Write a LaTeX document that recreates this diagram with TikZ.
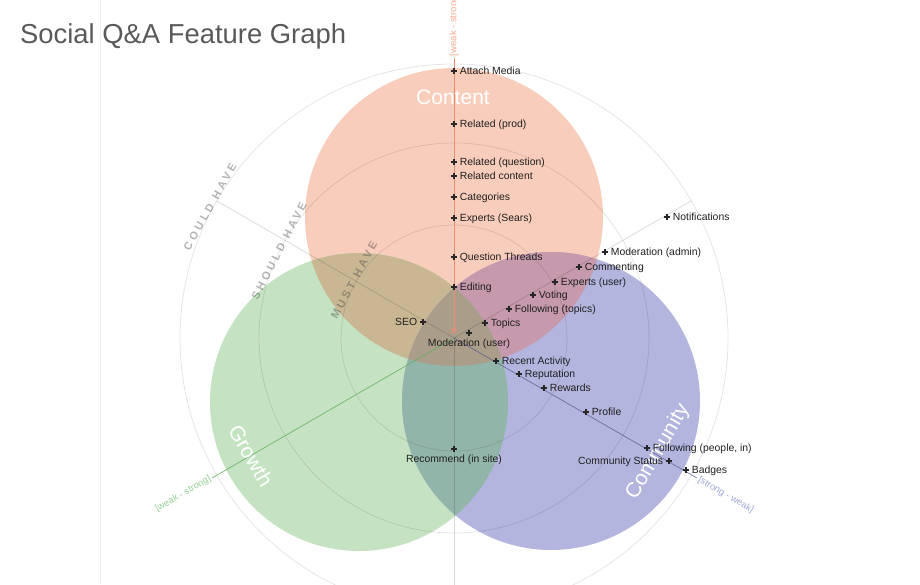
\documentclass[tikz,border=0pt]{standalone}
\usepackage{fontspec}
\setmainfont{Liberation Sans}
\newfontfamily\capsfont{Liberation Sans Bold}[LetterSpace=28]
\usetikzlibrary{arrows.meta}
\definecolor{cContent}{RGB}{249,205,187}
\definecolor{cGrowth}{RGB}{197,227,194}
\definecolor{cComm}{RGB}{179,181,222}
\definecolor{cCG}{RGB}{201,183,148}
\definecolor{cCC}{RGB}{198,153,172}
\definecolor{cGC}{RGB}{146,181,170}
\definecolor{cAll}{RGB}{170,157,138}
\definecolor{axC}{RGB}{240,140,110}
\definecolor{axCl}{RGB}{244,170,140}
\definecolor{axG}{RGB}{100,175,100}
\definecolor{axGl}{RGB}{150,210,150}
\definecolor{axM}{RGB}{85,90,140}
\definecolor{axMl}{RGB}{160,168,210}
\begin{document}
\begin{tikzpicture}[x=1pt,y=-1pt,
  plus/.style={inner sep=0pt, minimum size=6.5pt,
    path picture={\draw[line width=1.1pt,black!85]
      (path picture bounding box.north)--(path picture bounding box.south)
      (path picture bounding box.west)--(path picture bounding box.east);}},
  lbl/.style={font=\fontsize{10.4}{12}\selectfont, text=black!88, inner sep=2.2pt,
    text height=7.5pt, text depth=0pt},
  every label/.style={lbl},
  label distance=0pt,
  bigw/.style={font=\fontsize{21}{24}\selectfont, text=white, inner sep=0pt},
  caps/.style={font=\capsfont\fontsize{11}{12}\selectfont, text=black!75,
    text opacity=0.4, inner sep=0pt},
  axl/.style={font=\fontsize{9.5}{11}\selectfont, inner sep=0.8pt},
  ring/.style={draw=black, draw opacity=0.1, line width=0.8pt},
  gaxis/.style={draw=black, draw opacity=0.14, line width=0.8pt}
]
\useasboundingbox (0,0) rectangle (920,584);
\clip (0,0) rectangle (920,584);

% centres
\coordinate (O) at (454,338);
\coordinate (Cc) at (454,217);
\coordinate (Cg) at (359,402);
\coordinate (Cm) at (551,401);

% left guide line
\coordinate (gl1) at (100,0);
\coordinate (gl2) at (100,584);
\draw[black!7, line width=0.8pt] (gl1) -- (gl2);

% circles
\fill[cContent] (Cc) circle[radius=149pt];
\fill[cGrowth] (Cg) circle[radius=149pt];
\fill[cComm] (Cm) circle[radius=149pt];
\begin{scope}
  \clip (Cc) circle[radius=149pt];
  \fill[cCG] (Cg) circle[radius=149pt];
  \fill[cCC] (Cm) circle[radius=149pt];
\end{scope}
\begin{scope}
  \clip (Cg) circle[radius=149pt];
  \fill[cGC] (Cm) circle[radius=149pt];
\end{scope}
\begin{scope}
  \clip (Cc) circle[radius=149pt];
  \clip (Cg) circle[radius=149pt];
  \fill[cAll] (Cm) circle[radius=149pt];
\end{scope}

% rings
\draw[ring] (O) circle[radius=113pt];
\draw[ring] (O) circle[radius=195pt];
\draw[ring] (O) circle[radius=274pt];

% axes
\coordinate (cTop) at (454,58);
\coordinate (cTip) at (454,334);
\coordinate (gEnd) at (212,478);
\coordinate (mEnd) at (697,478);
\coordinate (nwEnd) at (217,201);
\coordinate (neEnd) at (691,201);
\coordinate (bEnd) at (454,590);
\draw[gaxis] (O) -- (nwEnd);
\draw[gaxis] (O) -- (neEnd);
\draw[gaxis] (O) -- (bEnd);
\draw[axC, line width=0.8pt, -{Triangle[open,length=5pt,width=6pt]}] (cTop) -- (cTip);
\draw[axG, draw opacity=0.8, line width=0.8pt] (O) -- (gEnd);
\draw[axM, draw opacity=0.7, line width=0.8pt] (O) -- (mEnd);

\node[axl, text=axCl, rotate=90, anchor=west] (lc) at (454,57) {[weak - strong]};
\node[axl, text=axGl, rotate=30, anchor=east] (lg) at (211,478) {[weak - strong]};
\node[axl, text=axMl, rotate=-30, anchor=west] (lm) at (698,479) {[strong - weak]};

% ring labels
\node[caps, rotate=61] (could) at (210,207) {COULD\hspace{7pt}HAVE};
\node[caps, rotate=63] (should) at (279,251) {SHOULD\hspace{7pt}HAVE};
\node[caps, rotate=62] (must) at (354,280) {MUST\hspace{7pt}HAVE};

% circle labels
\node[bigw] (tcontent) at (453,97) {Content};
\node[bigw, rotate=-60] (tgrowth) at (251,456) {Growth};
\node[bigw, rotate=60] (tcomm) at (658,452) {Community};

% title
\node[anchor=base west, inner sep=0pt, font=\fontsize{27.4}{30}\selectfont, text=black!65] (title) at (20,43) {Social Q\&A Feature Graph};

% features
\node[plus, label=right:Attach Media] (attach) at (454,71) {};
\node[plus, label=right:Related (prod)] (relprod) at (454,124) {};
\node[plus, label=right:Related (question)] (relq) at (454,162) {};
\node[plus, label=right:Related content] (relc) at (454,176) {};
\node[plus, label=right:Categories] (cat) at (454,197) {};
\node[plus, label=right:Experts (Sears)] (exps) at (454,218) {};
\node[plus, label=right:Question Threads] (qthr) at (454,257) {};
\node[plus, label=right:Editing] (edit) at (454,287) {};
\node[plus, label=left:SEO] (seo) at (423,322) {};
\node[plus, label=right:Topics] (topics) at (485,323) {};
\node[plus, label=below:Moderation (user)] (modu) at (469,333) {};
\node[plus, label=right:Recent Activity] (recent) at (496,361) {};
\node[plus, label=right:Reputation] (rep) at (519,374) {};
\node[plus, label=right:Rewards] (rew) at (544,388) {};
\node[plus, label=right:Profile] (prof) at (586,412) {};
\node[plus, label={right:{Following (people, in)}}] (follp) at (647,448) {};
\node[plus, label=left:Community Status] (cstat) at (669,461) {};
\node[plus, label=right:Badges] (badges) at (686,470) {};
\node[plus, label=below:Recommend (in site)] (recom) at (454,449) {};
\node[plus, label=right:Notifications] (notif) at (667,217) {};
\node[plus, label=right:Moderation (admin)] (moda) at (605,252) {};
\node[plus, label=right:Commenting] (comm) at (579,267) {};
\node[plus, label=right:Experts (user)] (expu) at (555,282) {};
\node[plus, label=right:Voting] (vote) at (533,295) {};
\node[plus, label=right:Following (topics)] (follt) at (509,309) {};
\end{tikzpicture}
\end{document}
